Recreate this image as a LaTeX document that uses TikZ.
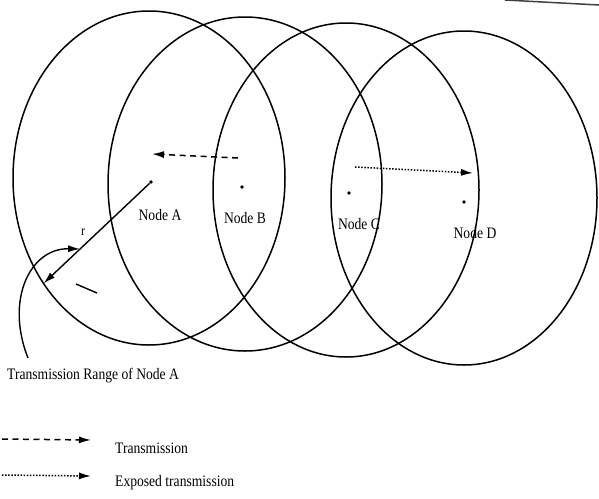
\documentclass[tikz,border=0pt]{standalone}
\usepackage{fontspec}
\setmainfont{Liberation Serif}[FakeStretch=0.85]
\usetikzlibrary{shapes.geometric,arrows.meta,calc}
\tikzset{
  rangebox/.style={ellipse, draw, line width=1.5pt, minimum width=272pt, minimum height=334pt, inner sep=0pt, outer sep=0pt},
  nodedot/.style={circle, fill, inner sep=0pt, minimum size=3.6pt},
  lbl/.style={font=\fontsize{16}{18}\selectfont, inner sep=0pt},
  arrowtip/.style={-{Latex[length=12pt,width=7pt]}},
  txline/.style={arrowtip, line width=1.5pt, dash pattern=on 6pt off 4.5pt},
  exline/.style={arrowtip, line width=1.5pt, dash pattern=on 1.5pt off 1.6pt},
}
\begin{document}
\begin{tikzpicture}[x=1pt,y=-1pt]
\useasboundingbox (0,0) rectangle (599,498);
% ranges
\node[rangebox] (eA) at (149,178) {};
\node[rangebox, minimum width=274pt] (eB) at (245,184) {};
\node[rangebox, minimum width=266pt] (eC) at (346,190) {};
\node[rangebox, minimum width=266pt] (eD) at (464,198) {};
% nodes
\node[nodedot] (A) at (151,182) {};
\node[nodedot] (B) at (242,187) {};
\node[nodedot] (C) at (349,193) {};
\node[nodedot] (D) at (464,202) {};
\node[lbl] (tA) at (160,215) {Node A};
\node[lbl] (tB) at (245,218) {Node B};
\node[lbl] (tC) at (359,224) {Node C};
\node[lbl] (tD) at (475,233) {Node D};
% transmissions
\coordinate (ts) at (238,158);
\coordinate (te) at (152,154);
\draw[txline] (ts) -- (te);
\coordinate (es) at (355,167);
\coordinate (ee) at (473,173);
\draw[exline] (es) -- (ee);
% radius
\draw[arrowtip, line width=1.4pt] (A) -- (eA.225);
\coordinate (rtip) at ($(A)!0.66!(eA.225)$);
\node[lbl, font=\fontsize{14}{16}\selectfont] (rlabel) at (83,232) {r};
\coordinate (cs) at (28,358);
\draw[arrowtip, line width=1.4pt] (cs) .. controls (5,300) and (30,248) .. (rtip);
\coordinate (m1) at (76,284);
\coordinate (m2) at (97,293);
\draw[line width=1.4pt] (m1) -- (m2);
\node[lbl, anchor=west] (rangetext) at (7,376) {Transmission Range of Node A};
% legend
\coordinate (l1s) at (2,439);
\coordinate (l1e) at (91,440);
\draw[txline] (l1s) -- (l1e);
\node[lbl, anchor=west] (lt1) at (115,448) {Transmission};
\coordinate (l2s) at (2,475);
\coordinate (l2e) at (91,476);
\draw[exline] (l2s) -- (l2e);
\node[lbl, anchor=west] (lt2) at (115,483) {Exposed transmission};
% page edge
\coordinate (p1) at (505,0);
\coordinate (p2) at (599,5);
\draw[line width=1.5pt, black!75] (p1) -- (p2);
\end{tikzpicture}
\end{document}
